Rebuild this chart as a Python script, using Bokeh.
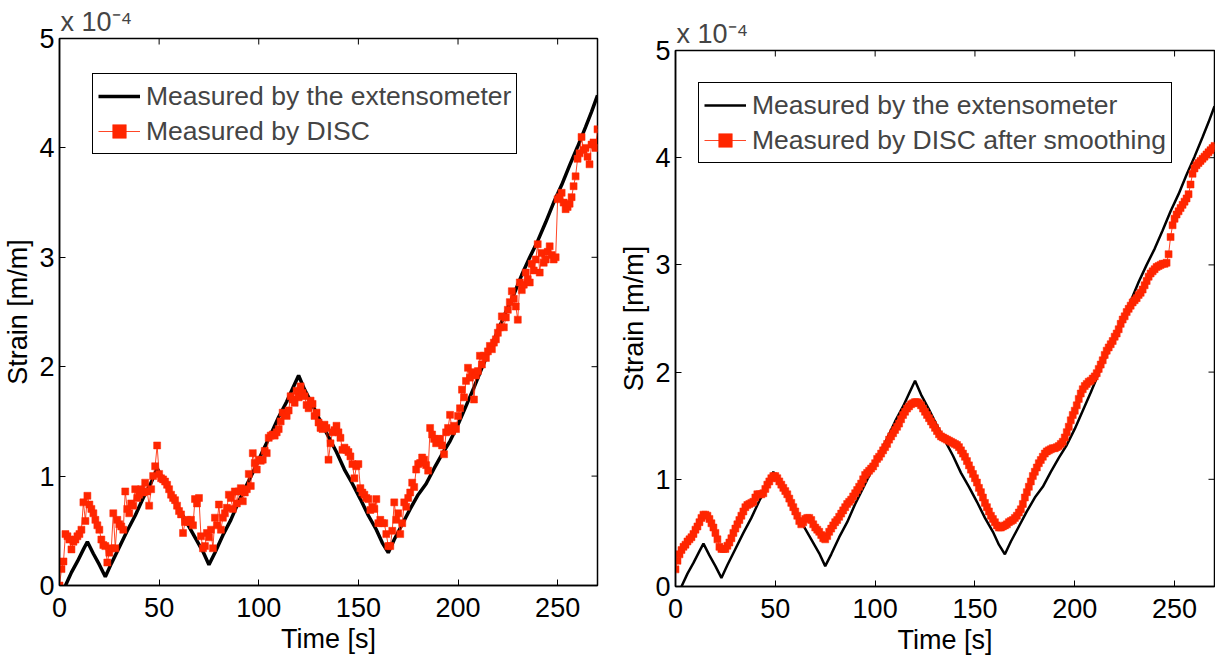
from bokeh.plotting import figure
from bokeh.models import Range1d, FixedTicker, Legend, LegendItem, Spacer
from bokeh.layouts import row, column
from bokeh.embed import file_html
from bokeh.resources import INLINE

# ---------------- data (strain in units of 1e-4 m/m) ----------------
ext_time = [0, 3, 6, 9, 12, 14, 17, 20, 23, 26, 30, 34, 38, 42, 46, 49, 52, 56, 60, 64,
            68, 72, 75, 78, 82, 86, 90, 94, 98, 102, 106, 110, 114, 117, 120, 123, 127,
            131, 135, 139, 143, 147, 151, 155, 159, 162, 165, 168, 172, 176, 180, 184,
            188, 192, 196, 200, 204, 208, 212, 216, 220, 224, 228, 232, 236, 240, 244,
            248, 252, 256, 260, 264, 267, 270]
ext_strain = [-0.11, 0.00, 0.12, 0.22, 0.33, 0.40, 0.29, 0.19, 0.08, 0.20, 0.35, 0.50,
              0.64, 0.80, 0.94, 1.07, 0.97, 0.83, 0.70, 0.57, 0.44, 0.31, 0.19, 0.30,
              0.46, 0.60, 0.77, 0.92, 1.07, 1.23, 1.38, 1.54, 1.68, 1.80, 1.92, 1.79,
              1.65, 1.50, 1.36, 1.22, 1.06, 0.93, 0.79, 0.64, 0.51, 0.39, 0.30, 0.42,
              0.56, 0.70, 0.83, 0.93, 1.07, 1.20, 1.32, 1.47, 1.64, 1.81, 1.99, 2.16,
              2.33, 2.50, 2.66, 2.84, 3.00, 3.15, 3.32, 3.50, 3.66, 3.84, 4.01, 4.19,
              4.33, 4.48]

disc_time = list(range(0, 271))
disc_raw = [
    0.00, 0.15, 0.22, 0.47, 0.45, 0.42, 0.33, 0.40, 0.42, 0.45,
    0.47, 0.51, 0.76, 0.59, 0.82, 0.74, 0.70, 0.66, 0.60, 0.55,
    0.51, 0.42, 0.37, 0.36, 0.21, 0.30, 0.34, 0.66, 0.34, 0.60,
    0.56, 0.54, 0.51, 0.86, 0.70, 0.66, 0.75, 0.73, 0.88, 0.80,
    0.83, 0.88, 0.85, 0.94, 0.86, 0.73, 0.88, 1.00, 1.09, 1.28,
    1.02, 0.98, 0.97, 0.95, 0.92, 0.88, 0.83, 0.80, 0.78, 0.73,
    0.68, 0.65, 0.48, 0.58, 0.60, 0.58, 0.60, 0.55, 0.79, 0.75,
    0.80, 0.45, 0.34, 0.36, 0.48, 0.44, 0.51, 0.34, 0.62, 0.55,
    0.74, 0.51, 0.62, 0.66, 0.71, 0.83, 0.80, 0.70, 0.86, 0.75,
    0.86, 0.89, 0.77, 0.85, 0.88, 1.02, 0.91, 1.21, 1.12, 1.06,
    1.15, 1.14, 1.15, 1.23, 1.21, 1.35, 1.37, 1.38, 1.37, 1.40,
    1.43, 1.50, 1.58, 1.56, 1.55, 1.60, 1.73, 1.70, 1.67, 1.78,
    1.72, 1.82, 1.76, 1.73, 1.65, 1.62, 1.69, 1.66, 1.55, 1.58,
    1.49, 1.44, 1.43, 1.47, 1.44, 1.15, 1.30, 1.40, 1.42, 1.46,
    1.40, 1.35, 1.24, 1.26, 1.24, 1.22, 1.18, 1.11, 0.98, 1.09,
    1.11, 0.89, 0.85, 0.83, 0.80, 0.79, 0.69, 0.72, 0.70, 0.79,
    0.57, 0.60, 0.57, 0.57, 0.47, 0.36, 0.36, 0.50, 0.76, 0.60,
    0.66, 0.47, 0.57, 0.76, 0.72, 0.80, 0.85, 0.94, 0.90, 1.06,
    1.11, 1.12, 1.17, 1.15, 1.10, 1.05, 1.44, 1.38, 1.34, 1.30,
    1.34, 1.34, 1.28, 1.20, 1.40, 1.44, 1.56, 1.41, 1.46, 1.43,
    1.55, 1.62, 1.79, 1.72, 1.87, 1.99, 1.90, 1.95, 1.70, 1.92,
    1.96, 2.10, 2.02, 2.10, 2.08, 2.14, 2.19, 2.16, 2.22, 2.25,
    2.31, 2.36, 2.46, 2.36, 2.45, 2.52, 2.59, 2.69, 2.62, 2.55,
    2.43, 2.77, 2.70, 2.75, 2.86, 2.80, 2.77, 2.94, 2.88, 2.98,
    3.12, 2.86, 3.04, 2.95, 2.98, 3.05, 3.10, 3.02, 2.98, 3.00,
    3.53, 3.55, 3.59, 3.50, 3.44, 3.46, 3.49, 3.55, 3.65, 3.74,
    3.90, 3.95, 4.10, 3.98, 4.00, 3.92, 3.85, 4.03, 4.05, 4.00,
    4.17]
disc_smooth = [
    0.16, 0.24, 0.30, 0.34, 0.37, 0.39, 0.42, 0.44, 0.46, 0.49,
    0.53, 0.56, 0.60, 0.64, 0.67, 0.67, 0.66, 0.63, 0.59, 0.55,
    0.50, 0.44, 0.37, 0.35, 0.35, 0.35, 0.38, 0.41, 0.45, 0.50,
    0.54, 0.58, 0.62, 0.66, 0.70, 0.74, 0.76, 0.77, 0.78, 0.79,
    0.83, 0.86, 0.86, 0.86, 0.87, 0.91, 0.95, 0.98, 1.01, 1.03,
    1.03, 1.01, 0.98, 0.95, 0.92, 0.89, 0.86, 0.82, 0.78, 0.74,
    0.70, 0.66, 0.61, 0.58, 0.60, 0.63, 0.64, 0.64, 0.62, 0.58,
    0.55, 0.53, 0.51, 0.48, 0.45, 0.44, 0.47, 0.51, 0.54, 0.57,
    0.60, 0.62, 0.65, 0.68, 0.71, 0.74, 0.77, 0.79, 0.81, 0.84,
    0.87, 0.90, 0.93, 0.96, 1.00, 1.04, 1.06, 1.08, 1.10, 1.12,
    1.15, 1.19, 1.21, 1.24, 1.27, 1.30, 1.33, 1.37, 1.40, 1.43,
    1.46, 1.49, 1.52, 1.56, 1.60, 1.63, 1.66, 1.68, 1.70, 1.71,
    1.72, 1.72, 1.71, 1.69, 1.66, 1.63, 1.60, 1.57, 1.54, 1.51,
    1.48, 1.45, 1.42, 1.40, 1.39, 1.38, 1.37, 1.36, 1.35, 1.34,
    1.33, 1.32, 1.30, 1.27, 1.24, 1.21, 1.17, 1.13, 1.09, 1.05,
    1.01, 0.97, 0.92, 0.88, 0.83, 0.78, 0.74, 0.70, 0.66, 0.63,
    0.60, 0.57, 0.55, 0.55, 0.56, 0.57, 0.58, 0.60, 0.61, 0.62,
    0.64, 0.66, 0.69, 0.72, 0.77, 0.83, 0.88, 0.93, 0.98, 1.03,
    1.07, 1.11, 1.15, 1.18, 1.21, 1.24, 1.26, 1.27, 1.28, 1.29,
    1.29, 1.30, 1.31, 1.33, 1.35, 1.39, 1.44, 1.49, 1.55, 1.60,
    1.64, 1.69, 1.75, 1.80, 1.84, 1.87, 1.89, 1.91, 1.92, 1.94,
    1.96, 1.99, 2.03, 2.07, 2.11, 2.16, 2.20, 2.23, 2.26, 2.29,
    2.33, 2.36, 2.40, 2.45, 2.49, 2.52, 2.56, 2.59, 2.62, 2.65,
    2.67, 2.69, 2.72, 2.74, 2.77, 2.81, 2.85, 2.89, 2.92, 2.94,
    2.96, 2.98, 2.99, 3.00, 3.01, 3.01, 3.02, 3.10, 3.26, 3.37,
    3.43, 3.47, 3.50, 3.53, 3.56, 3.59, 3.62, 3.66, 3.75, 3.85,
    3.90, 3.93, 3.95, 3.97, 3.99, 4.01, 4.03, 4.05, 4.07, 4.09,
    4.11]

x_ticks = [0, 50, 100, 150, 200, 250]
y_ticks = [0, 1, 2, 3, 4, 5]
x_limits = (0, 270)
y_limits = (0, 5)
legend_labels_left = ["Measured by the extensometer", "Measured by DISC"]
legend_labels_right = ["Measured by the extensometer", "Measured by DISC after smoothing"]
x_label = "Time [s]"
y_label = "Strain [m/m]"
multiplier = "x 10\u207b\u2074"

FONT = "Liberation Sans"
RED = "#ff2600"
FS = "27px"
LFS = "26.5px"
TICK = 6


def make_panel(width, height, mb_left, mb_right, mb_top, mb_bottom, black_w,
               red_y, labels, leg_loc):
    p = figure(width=width, height=height, output_backend="svg", toolbar_location=None,
               x_range=Range1d(*x_limits), y_range=Range1d(*y_limits),
               min_border_left=mb_left, min_border_right=mb_right,
               min_border_top=mb_top, min_border_bottom=mb_bottom,
               x_axis_label=x_label, y_axis_label=y_label, title=multiplier)
    p.grid.visible = False
    p.outline_line_color = "black"
    p.outline_line_width = 1.5
    p.outline_line_alpha = 1.0
    p.background_fill_color = "white"
    p.border_fill_color = "white"

    p.title.text_font = FONT
    p.title.text_font_size = FS
    p.title.text_font_style = "normal"
    p.title.align = "left"
    p.title.vertical_align = "bottom"
    p.title.offset = 1
    p.title.standoff = 3

    for ax, ticks in ((p.xaxis[0], x_ticks), (p.yaxis[0], y_ticks)):
        ax.ticker = FixedTicker(ticks=ticks)
        ax.minor_tick_line_color = None
        ax.major_tick_in = TICK
        ax.major_tick_out = 0
        ax.major_tick_line_color = "black"
        ax.axis_line_color = "black"
        ax.axis_line_width = 1.5
        ax.major_label_text_font = FONT
        ax.major_label_text_font_size = FS
        ax.major_label_text_color = "black"
        ax.axis_label_text_font = FONT
        ax.axis_label_text_font_size = FS
        ax.axis_label_text_font_style = "normal"
        ax.axis_label_text_color = "black"
    p.xaxis[0].major_label_standoff = 12
    p.xaxis[0].axis_label_standoff = 4
    p.yaxis[0].major_label_standoff = 5
    p.yaxis[0].axis_label_standoff = 3

    # mirrored inward ticks on the top and right edges of the box
    frame_w = width - mb_left - mb_right
    frame_h = height - mb_top - mb_bottom
    dy = TICK * (y_limits[1] - y_limits[0]) / frame_h
    dx = TICK * (x_limits[1] - x_limits[0]) / frame_w
    p.segment(x0=x_ticks, y0=[y_limits[1]] * len(x_ticks), x1=x_ticks,
              y1=[y_limits[1] - dy] * len(x_ticks), line_color="black", line_width=1)
    p.segment(x0=[x_limits[1]] * len(y_ticks), y0=y_ticks,
              x1=[x_limits[1] - dx] * len(y_ticks), y1=y_ticks,
              line_color="black", line_width=1)

    r_black = p.line(ext_time, ext_strain, line_color="black", line_width=black_w)
    r_rline = p.line(disc_time, red_y, line_color=RED, line_width=1, line_alpha=0.85)
    r_rmark = p.scatter(disc_time, red_y, marker="square", size=7,
                        fill_color=RED, line_color=RED, line_width=0.5)

    legend = Legend(items=[LegendItem(label=labels[0], renderers=[r_black]),
                           LegendItem(label=labels[1], renderers=[r_rline, r_rmark])],
                    location=leg_loc, margin=0, padding=5, spacing=1,
                    glyph_width=42, glyph_height=34, label_height=34, label_standoff=6,
                    label_text_font=FONT, label_text_font_size=LFS,
                    border_line_color="black", border_line_width=1.5, border_line_alpha=1.0,
                    background_fill_color="white", background_fill_alpha=1.0)
    p.add_layout(legend, "center")
    return p


# left panel: frame 542 x 547 at (63, 46); right panel: frame 539 x 536 at (683, 58)
p1 = make_panel(612, 675, 55, 15, 38, 90, 3.5, disc_raw, legend_labels_left, (33, 431))
p2 = make_panel(603, 664, 63, 1, 38, 90, 2.5, disc_smooth, legend_labels_right, (23, 423))

layout = row(p1, column(Spacer(width=603, height=12), p2))
open("out.html", "w").write(file_html(layout, INLINE))
